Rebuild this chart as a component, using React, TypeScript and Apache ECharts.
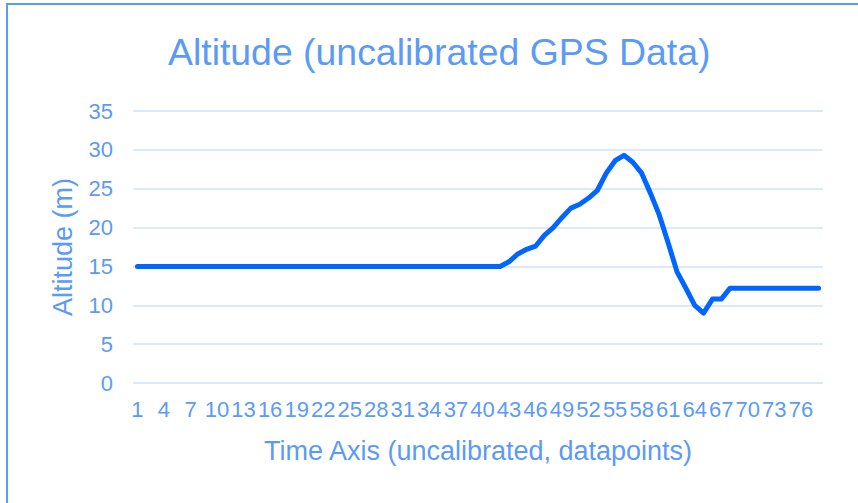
import React, { useEffect, useRef } from "react";
import * as echarts from "echarts";

const categories: string[] = Array.from({ length: 78 }, (_, i) => String(i + 1));

const flatStart: number[] = Array(42).fill(15);
const riseAndFall: number[] = [
  15.6, 16.6, 17.2, 17.6, 19.0, 20.0, 21.3, 22.5, 23.0, 23.8, 24.8, 27.0, 28.6, 29.3,
  28.4, 27.0, 24.4, 21.6, 18.0, 14.3, 12.2, 10.0, 9.0, 10.8, 10.8, 12.2,
];
const flatEnd: number[] = Array(10).fill(12.2);
const altitude: number[] = [...flatStart, ...riseAndFall, ...flatEnd];

const yTicks = { min: 0, max: 35, interval: 5 };

const TEXT = "#5b9bf5";
const LINE = "#0066ff";
const GRID = "#dce8fc";
const FONT = "'Liberation Sans', Arial, sans-serif";

export default function App() {
  const ref = useRef<HTMLDivElement>(null);
  useEffect(() => {
    document.body.style.margin = "0";
    const chart = echarts.init(ref.current!, null, { renderer: "svg" });
    chart.setOption({
      animation: false,
      backgroundColor: "#ffffff",
      title: {
        text: "Altitude (uncalibrated GPS Data)",
        left: 163,
        top: 28,
        textStyle: { color: TEXT, fontFamily: FONT, fontSize: 37.4, fontWeight: "normal" },
      },
      graphic: [
        {
          type: "rect",
          shape: { x: 7, y: 4, width: 1000, height: 800 },
          style: { fill: "none", stroke: TEXT, lineWidth: 2 },
          silent: true,
        },
      ],
      grid: { left: 133, right: 35, top: 111, bottom: 120 },
      xAxis: {
        type: "category",
        data: categories,
        boundaryGap: true,
        axisLine: { show: false },
        axisTick: { show: false },
        axisLabel: {
          interval: 2,
          color: TEXT,
          fontFamily: FONT,
          fontSize: 22,
          margin: 15,
          hideOverlap: false,
        },
        name: "Time Axis (uncalibrated, datapoints)",
        nameLocation: "middle",
        nameGap: 54,
        nameTextStyle: { color: TEXT, fontFamily: FONT, fontSize: 27 },
      },
      yAxis: {
        type: "value",
        min: yTicks.min,
        max: yTicks.max,
        interval: yTicks.interval,
        axisLine: { show: false },
        axisTick: { show: false },
        splitLine: { lineStyle: { color: GRID, width: 2 } },
        axisLabel: { color: TEXT, fontFamily: FONT, fontSize: 22, margin: 20 },
        name: "Altitude (m)",
        nameLocation: "middle",
        nameGap: 57,
        nameTextStyle: { color: TEXT, fontFamily: FONT, fontSize: 27 },
      },
      series: [
        {
          type: "line",
          data: altitude,
          symbol: "none",
          lineStyle: { color: LINE, width: 5, cap: "round", join: "round" },
        },
      ],
    });
    return () => chart.dispose();
  }, []);
  return <div ref={ref} style={{ width: 858, height: 503 }} />;
}
